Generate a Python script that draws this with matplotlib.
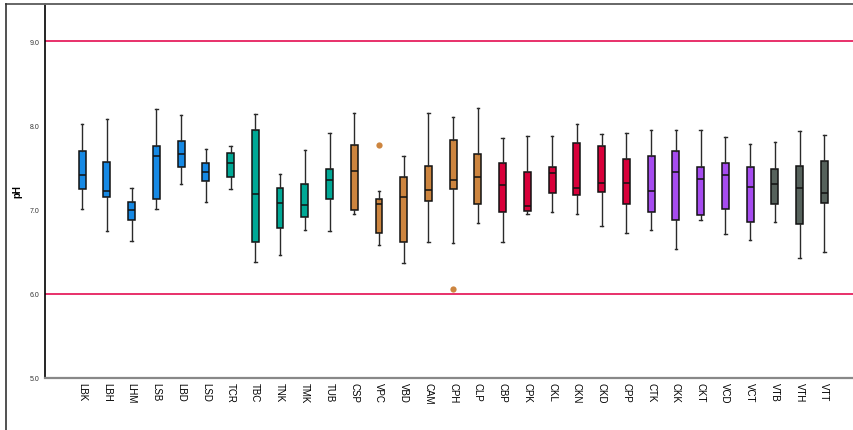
import matplotlib.pyplot as plt
from matplotlib.lines import Line2D

plt.rcParams['font.family'] = ['Liberation Sans', 'DejaVu Sans']

# sample sites, in plotting order
sites = ['LBK', 'LBH', 'LHM', 'LSB', 'LBD', 'LSD',
         'TCR', 'TBC', 'TNK', 'TMK', 'TUB',
         'CSP', 'VPC', 'VBD', 'CAM', 'CPH', 'CLP',
         'CBP', 'CPK', 'CKL', 'CKN', 'CKD', 'CPP',
         'CTK', 'CKK', 'CKT', 'VCD', 'VCT',
         'VTB', 'VTH', 'VTT']

# group sizes and fill colours
group_sizes = [6, 5, 6, 6, 5, 3]
group_colors = ['#1689e4', '#00a996', '#cd853f', '#d8003a', '#a64cf0', '#56625c']

# box statistics (pH)
whis_lo = [7.01, 6.74, 6.63, 7.01, 7.30, 7.09,
           7.24, 6.38, 6.46, 6.76, 6.74,
           6.95, 6.58, 6.37, 6.62, 6.60, 6.84,
           6.61, 6.95, 6.97, 6.95, 6.81, 6.72,
           6.76, 6.53, 6.88, 6.71, 6.64,
           6.85, 6.42, 6.49]
q1 = [7.24, 7.15, 6.88, 7.13, 7.50, 7.34,
      7.39, 6.62, 6.78, 6.91, 7.13,
      6.99, 6.72, 6.61, 7.10, 7.24, 7.06,
      6.97, 6.98, 7.20, 7.17, 7.21, 7.06,
      6.97, 6.88, 6.93, 7.01, 6.85,
      7.06, 6.83, 7.08]
median = [7.41, 7.22, 6.99, 7.63, 7.66, 7.45,
          7.55, 7.19, 7.08, 7.05, 7.35,
          7.46, 7.07, 7.15, 7.23, 7.35, 7.39,
          7.29, 7.04, 7.43, 7.26, 7.31, 7.32,
          7.22, 7.45, 7.36, 7.41, 7.27,
          7.30, 7.26, 7.20]
q3 = [7.70, 7.57, 7.09, 7.75, 7.81, 7.55,
      7.67, 7.94, 7.26, 7.30, 7.48,
      7.77, 7.13, 7.39, 7.52, 7.83, 7.66,
      7.55, 7.45, 7.50, 7.79, 7.75, 7.60,
      7.63, 7.70, 7.50, 7.55, 7.50,
      7.48, 7.52, 7.58]
whis_hi = [8.01, 8.07, 7.26, 8.19, 8.12, 7.72,
           7.76, 8.13, 7.42, 7.71, 7.91,
           8.15, 7.22, 7.64, 8.15, 8.10, 8.20,
           7.85, 7.87, 7.87, 8.02, 7.90, 7.91,
           7.95, 7.95, 7.95, 7.86, 7.78,
           7.80, 7.93, 7.89]
outliers = {'VPC': [7.77], 'CPH': [6.06]}

limits = [6.0, 9.0]

colors = []
for n, c in zip(group_sizes, group_colors):
    colors += [c] * n

stats = []
for i, s in enumerate(sites):
    stats.append(dict(label=s, whislo=whis_lo[i], q1=q1[i], med=median[i],
                      q3=q3[i], whishi=whis_hi[i], fliers=outliers.get(s, [])))

fig = plt.figure(figsize=(8.54, 4.31), dpi=100)
W, H = 854, 431
ax = fig.add_axes([45 / W, 1 - 379 / H, (854 - 45) / W, (379 - 5) / H])

pos = list(range(len(sites)))
bp = ax.bxp(stats, positions=pos, widths=0.28, patch_artist=True,
            showfliers=True,
            boxprops=dict(edgecolor='#111111', linewidth=1.1),
            medianprops=dict(color='#111111', linewidth=1.1),
            whiskerprops=dict(color='#2a2a2a', linewidth=1.0),
            capprops=dict(color='#2a2a2a', linewidth=1.0),
            capwidths=0.1,
            flierprops=dict(marker='o', markersize=4.5, markeredgewidth=0))
for patch, c in zip(bp['boxes'], colors):
    patch.set_facecolor(c)
for fl, c in zip(bp['fliers'], colors):
    fl.set_markerfacecolor(c)

for y in limits:
    ax.axhline(y, color='#e8306a', linewidth=1.4, zorder=0)

ax.set_xlim(-1.5, 31.2)
ax.set_ylim(5.0, 9.44)
ax.set_yticks([5.0, 6.0, 7.0, 8.0, 9.0])
ax.set_yticklabels(['5.0', '6.0', '7.0', '8.0', '9.0'], fontsize=5, color='#333333')
ax.set_xticks(pos)
ax.set_xticklabels(sites, rotation=270, fontsize=7, color='black')
ax.tick_params(axis='both', length=0)
ax.tick_params(axis='x', pad=3)
ax.tick_params(axis='y', pad=4)
ax.set_ylabel('pH', fontsize=7, fontweight='bold', labelpad=5)

ax.spines['top'].set_visible(False)
ax.spines['right'].set_visible(False)
ax.spines['left'].set_color('black')
ax.spines['left'].set_linewidth(1.2)
ax.spines['bottom'].set_color('#888888')
ax.spines['bottom'].set_linewidth(1.6)

# outer frame of the chart area
fig.add_artist(Line2D([6 / W, 1.0], [1 - 5 / H, 1 - 5 / H], color='#666666', linewidth=1.4))
fig.add_artist(Line2D([6 / W, 6 / W], [0.0, 1 - 5 / H], color='#333333', linewidth=1.2))

fig.savefig('out.png', dpi=100)
